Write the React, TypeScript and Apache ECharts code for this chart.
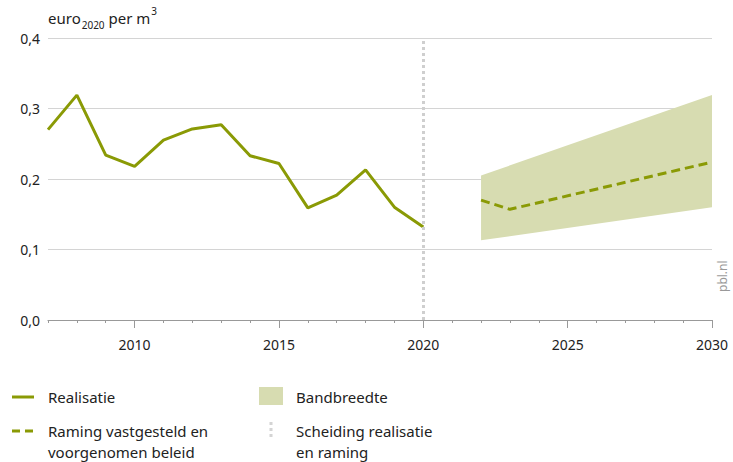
import React, { useEffect, useRef } from "react";
import * as echarts from "echarts";

const realYears = [2007, 2008, 2009, 2010, 2011, 2012, 2013, 2014, 2015, 2016, 2017, 2018, 2019, 2020];
const realValues = [0.27, 0.319, 0.234, 0.218, 0.255, 0.271, 0.277, 0.233, 0.222, 0.159, 0.177, 0.213, 0.16, 0.132];
const ramingYears = [2022, 2023, 2030];
const ramingValues = [0.17, 0.157, 0.224];
const bandYears = [2022, 2030];
const bandLower = [0.113, 0.16];
const bandUpper = [0.205, 0.319];
const xLabelYears = [2010, 2015, 2020, 2025, 2030];
const allYears = Array.from({ length: 24 }, (_, i) => 2007 + i);

const GREEN = "#8a9a05";
const BAND = "#d7dcb1";
const FONT = "Noto Sans";

function measure(text: string, size: number) {
  const c = document.createElement("canvas").getContext("2d")!;
  c.font = `${size}px "${FONT}"`;
  return c.measureText(text).width;
}

export default function App() {
  const ref = useRef<HTMLDivElement>(null);
  useEffect(() => {
    document.body.style.margin = "0";
    const chart = echarts.init(ref.current!, null, { renderer: "svg" });
    const leg = { fontFamily: FONT, fontSize: 15, fill: "#222" };
    const tx0 = 48;
    const w1 = measure("euro", 15);
    const w2 = measure("2020", 10);
    const w3 = measure(" per m", 15);
    const bandData = bandYears.map((y, i) => [y, bandLower[i], bandUpper[i]]);
    chart.setOption({
      animation: false,
      textStyle: { fontFamily: FONT },
      grid: { left: 48, right: 21, top: 38, bottom: 142 },
      xAxis: [
        {
          type: "value",
          min: 2007,
          max: 2030,
          interval: 1,
          axisLine: { show: true, lineStyle: { color: "#999", width: 1.2 } },
          axisTick: { show: true, length: 3, customValues: allYears, lineStyle: { color: "#999" } },
          axisLabel: {
            customValues: xLabelYears,
            margin: 17,
            fontSize: 14,
            color: "#222",
            fontFamily: FONT,
            formatter: (v: number) => String(v),
          },
          splitLine: { show: false },
        },
        {
          type: "value",
          min: 2007,
          max: 2030,
          interval: 1,
          position: "bottom",
          axisLine: { show: false },
          axisTick: { show: true, length: 8, customValues: xLabelYears, lineStyle: { color: "#999" } },
          axisLabel: { show: false },
          splitLine: { show: false },
        },
      ],
      yAxis: {
        type: "value",
        min: 0,
        max: 0.4,
        interval: 0.1,
        axisLine: { show: false },
        axisTick: { show: false },
        axisLabel: {
          fontSize: 14,
          color: "#222",
          fontFamily: FONT,
          margin: 8,
          formatter: (v: number) => v.toFixed(1).replace(".", ","),
        },
        splitLine: { lineStyle: { color: "#d4d4d4", width: 1.2 } },
      },
      series: [
        {
          type: "custom",
          name: "Bandbreedte",
          silent: true,
          data: bandData,
          renderItem: (params: any, api: any) => {
            if (params.dataIndex !== 0) return null;
            const pts: number[][] = [];
            bandData.forEach((d) => pts.push(api.coord([d[0], d[2]])));
            for (let i = bandData.length - 1; i >= 0; i--) pts.push(api.coord([bandData[i][0], bandData[i][1]]));
            return { type: "polygon", shape: { points: pts }, style: { fill: BAND } };
          },
        },
        {
          type: "line",
          name: "Realisatie",
          symbol: "none",
          lineStyle: { color: GREEN, width: 3 },
          data: realYears.map((y, i) => [y, realValues[i]]),
          markLine: {
            silent: true,
            symbol: "none",
            label: { show: false },
            lineStyle: { color: "#cfcfcf", width: 3, type: [3, 3] },
            data: [{ xAxis: 2020 }],
          },
        },
        {
          type: "line",
          name: "Raming",
          symbol: "none",
          lineStyle: { color: GREEN, width: 3, type: [9, 5] },
          data: ramingYears.map((y, i) => [y, ramingValues[i]]),
        },
      ],
      graphic: [
        { type: "text", x: tx0, y: 18, style: { ...leg, text: "euro", verticalAlign: "middle" } },
        { type: "text", x: tx0 + w1 + 1, y: 25, style: { ...leg, fontSize: 10, text: "2020", verticalAlign: "middle" } },
        { type: "text", x: tx0 + w1 + w2 + 1, y: 18, style: { ...leg, text: " per m", verticalAlign: "middle" } },
        { type: "text", x: tx0 + w1 + w2 + w3 + 2, y: 11, style: { ...leg, fontSize: 10, text: "3", verticalAlign: "middle" } },
        {
          type: "text",
          x: 722,
          y: 292,
          rotation: Math.PI / 2,
          style: { text: "pbl.nl", fontFamily: FONT, fontSize: 12, fill: "#999", verticalAlign: "middle", align: "left" },
        },
        { type: "line", shape: { x1: 12, y1: 397, x2: 34, y2: 397 }, style: { stroke: GREEN, lineWidth: 3 } },
        { type: "text", x: 48, y: 397, style: { ...leg, text: "Realisatie", verticalAlign: "middle" } },
        { type: "line", shape: { x1: 12, y1: 431, x2: 34, y2: 431 }, style: { stroke: GREEN, lineWidth: 3, lineDash: [8, 5] } },
        { type: "text", x: 48, y: 431, style: { ...leg, text: "Raming vastgesteld en", verticalAlign: "middle" } },
        { type: "text", x: 48, y: 452, style: { ...leg, text: "voorgenomen beleid", verticalAlign: "middle" } },
        { type: "rect", shape: { x: 259, y: 387, width: 24, height: 18 }, style: { fill: BAND } },
        { type: "text", x: 296, y: 397, style: { ...leg, text: "Bandbreedte", verticalAlign: "middle" } },
        { type: "line", shape: { x1: 271, y1: 422, x2: 271, y2: 440 }, style: { stroke: "#d4d4d4", lineWidth: 3, lineDash: [3, 3] } },
        { type: "text", x: 296, y: 431, style: { ...leg, text: "Scheiding realisatie", verticalAlign: "middle" } },
        { type: "text", x: 296, y: 452, style: { ...leg, text: "en raming", verticalAlign: "middle" } },
      ],
    });
    return () => chart.dispose();
  }, []);
  return <div ref={ref} style={{ position: "absolute", left: 0, top: 0, width: 733, height: 462 }} />;
}
